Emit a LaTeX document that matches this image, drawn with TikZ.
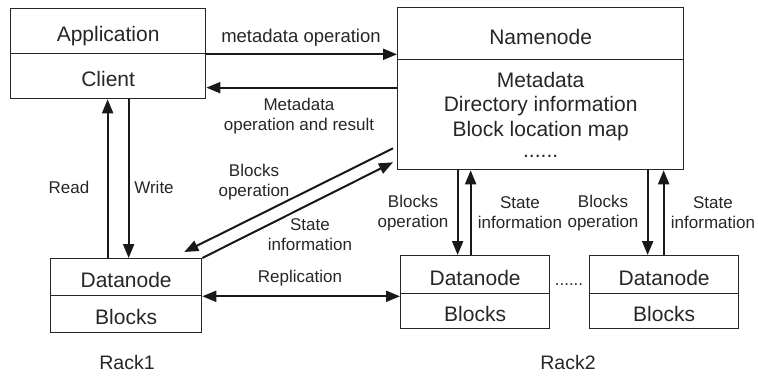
\documentclass[tikz,border=0pt]{standalone}
\usepackage{fontspec}
\setmainfont{Liberation Sans}
\usetikzlibrary{arrows.meta,calc}

\tikzset{
  boxpart/.style={draw=black!85, line width=1.3pt, rectangle, inner sep=0pt,
    anchor=north west, text=black!85,
    font=\fontsize{21}{24.5}\selectfont},
  part/.style={boxpart, text height=21pt, text depth=0pt},
  lbl/.style={text=black!85, align=center, inner sep=0pt,
    font=\fontsize{17}{20}\selectfont},
  arr/.style={line width=2pt, draw=black!90,
    -{Triangle[length=14pt,width=11pt]}},
  biarr/.style={line width=2pt, draw=black!90,
    {Triangle[length=14pt,width=11pt]}-{Triangle[length=14pt,width=11pt]}},
}

\begin{document}
\begin{tikzpicture}[x=1pt,y=-1pt]
  \useasboundingbox (0,0) rectangle (758,376);

  % Client side
  \node[part, minimum width=195pt, minimum height=45pt] (app) at (10,8) {Application};
  \node[part, minimum width=195pt, minimum height=45pt] (client) at (10,53) {Client};

  % Namenode
  \node[part, minimum width=286pt, minimum height=52pt] (nnhead) at (397,7) {Namenode};
  \node[boxpart, minimum width=286pt, minimum height=110pt, align=center] (nnbody) at (397,59)
        {Metadata\\Directory information\\Block location map\\[-3pt]......};

  % Datanodes
  \node[part, minimum width=151pt, minimum height=37pt] (dn1a) at (50,258) {Datanode};
  \node[part, minimum width=151pt, minimum height=37pt] (dn1b) at (50,295) {Blocks};
  \node[part, minimum width=149pt, minimum height=38pt] (dn2a) at (400,255) {Datanode};
  \node[part, minimum width=149pt, minimum height=35pt] (dn2b) at (400,293) {Blocks};
  \node[part, minimum width=149pt, minimum height=38pt] (dn3a) at (589,255) {Datanode};
  \node[part, minimum width=149pt, minimum height=35pt] (dn3b) at (589,293) {Blocks};
  \node[lbl] (gap) at (569,285) {......};

  % Rack captions
  \node[lbl, font=\fontsize{19.5}{22}\selectfont] (rack1) at (127,363) {Rack1};
  \node[lbl, font=\fontsize{19.5}{22}\selectfont] (rack2) at (568,363) {Rack2};

  % Client <-> Namenode
  \draw[arr] (app.south east) -- (app.south east -| nnhead.west);
  \draw[arr] ([yshift=-11.5pt]client.east -| nnbody.west) -- ([yshift=-11.5pt]client.east);
  \node[lbl, font=\fontsize{18.5}{21}\selectfont] (lmeta) at (301,38) {metadata operation};
  \node[lbl] (lres) at (299,116) {Metadata\\operation and result};

  % Client <-> Datanode (Rack1)
  \draw[arr] ([xshift=-18.5pt]dn1a.north) -- ([xshift=-18.5pt]dn1a.north |- client.south);
  \draw[arr] ([xshift=2.5pt]dn1a.north |- client.south) -- ([xshift=2.5pt]dn1a.north);
  \node[lbl] (lread) at (69,187) {Read};
  \node[lbl] (lwrite) at (154,187) {Write};

  % Namenode <-> Datanode (Rack1)
  \draw[arr] ([shift={(-4pt,22pt)}]nnbody.south west) -- ([shift={(-18pt,6pt)}]dn1a.north east);
  \draw[arr] (dn1a.north east) -- ([shift={(-4pt,8pt)}]nnbody.south west);
  \node[lbl] (lbo1) at (254,182) {Blocks\\operation};
  \node[lbl] (lst1) at (310,235) {State\\information};

  % Namenode <-> Datanodes (Rack2)
  \draw[arr] ([xshift=-17.5pt]dn2a.north |- nnbody.south) -- ([xshift=-17.5pt]dn2a.north);
  \draw[arr] ([xshift=-4.5pt]dn2a.north) -- ([xshift=-4.5pt]dn2a.north |- nnbody.south);
  \draw[arr] ([xshift=-16.5pt]dn3a.north |- nnbody.south) -- ([xshift=-16.5pt]dn3a.north);
  \draw[arr] ([xshift=-0.5pt]dn3a.north) -- ([xshift=-0.5pt]dn3a.north |- nnbody.south);
  \node[lbl] (lbo2) at (413,213) {Blocks\\operation};
  \node[lbl] (lst2) at (520,213) {State\\information};
  \node[lbl] (lbo3) at (603,213) {Blocks\\operation};
  \node[lbl] (lst3) at (713,213) {State\\information};

  % Replication between racks
  \draw[biarr] (dn1a.south east) -- (dn1a.south east -| dn2a.west);
  \node[lbl] (lrep) at (300,278) {Replication};
\end{tikzpicture}
\end{document}
